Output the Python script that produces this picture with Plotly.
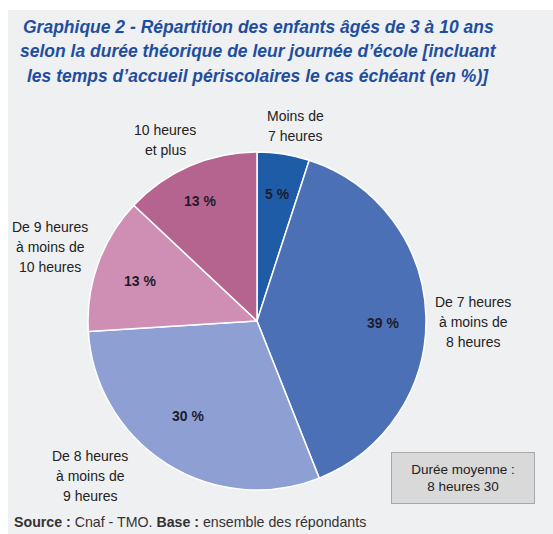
import plotly.graph_objects as go

categories = ["Moins de 7 heures", "De 7 heures à moins de 8 heures",
              "De 8 heures à moins de 9 heures", "De 9 heures à moins de 10 heures",
              "10 heures et plus"]
values = [5, 39, 30, 13, 13]
colors = ["#1f5ca8", "#4c70b6", "#8d9fd3", "#cf8fb5", "#b5648f"]
label_lines = [["Moins de", "7 heures"],
               ["De 7 heures", "à moins de", "8 heures"],
               ["De 8 heures", "à moins de", "9 heures"],
               ["De 9 heures", "à moins de", "10 heures"],
               ["10 heures", "et plus"]]

W, H = 553, 534
FONT = "Liberation Sans, Arial, sans-serif"

def px(x):
    return x / W

def py(y):
    return 1 - y / H

fig = go.Figure()
fig.add_trace(go.Pie(
    labels=categories, values=values, sort=False, direction="clockwise", rotation=0,
    marker=dict(colors=colors, line=dict(color="white", width=1.5)),
    textinfo="none",
    domain=dict(x=[px(88), px(426)], y=[py(490), py(152)]),
    hoverinfo="label+value", showlegend=False,
))

# background panel
fig.add_shape(type="rect", xref="paper", yref="paper", x0=px(8), x1=1, y0=0, y1=py(10),
              fillcolor="#eff0f2", line=dict(width=0), layer="below")

annotations = []
# title
title_lines = ["Graphique 2 - Répartition des enfants âgés de 3 à 10 ans",
               "selon la durée théorique de leur journée d’école [incluant",
               "les temps d’accueil périscolaires le cas échéant (en %)]"]
for i, t in enumerate(title_lines):
    annotations.append(dict(text="<b><i>" + t + "</i></b>", x=px(258), y=py(27 + 24.5 * i),
                            xref="paper", yref="paper", showarrow=False,
                            xanchor="center", yanchor="middle",
                            font=dict(family=FONT, size=17.5, color="#1f4e9e")))

# percentage labels inside slices
pct_pos = [(277, 194), (383, 323), (188, 416), (140, 281), (200, 201)]
for v, (cx, cy) in zip(values, pct_pos):
    annotations.append(dict(text="<b>%d %%</b>" % v, x=px(cx), y=py(cy),
                            xref="paper", yref="paper", showarrow=False,
                            xanchor="center", yanchor="middle",
                            font=dict(family=FONT, size=14, color="#1c1c2c")))

# category labels (center x, center y of block)
label_pos = [(295, 126), (473, 322), (90, 476), (50, 247), (165, 140)]
for lines, (cx, cy) in zip(label_lines, label_pos):
    n = len(lines)
    for j, t in enumerate(lines):
        yy = cy + (j - (n - 1) / 2) * 20
        annotations.append(dict(text=t, x=px(cx), y=py(yy), xref="paper", yref="paper",
                                showarrow=False, xanchor="center", yanchor="middle",
                                font=dict(family=FONT, size=14, color="#222222")))

# average box
annotations.append(dict(text="Durée moyenne :<br>8 heures 30", x=px(463), y=py(478),
                        xref="paper", yref="paper", showarrow=False,
                        xanchor="center", yanchor="middle",
                        width=140, height=48, bgcolor="#d9d9d9",
                        bordercolor="#a8a8a8", borderwidth=1,
                        font=dict(family=FONT, size=13.5, color="#222222")))

# source
annotations.append(dict(text="<b>Source :</b> Cnaf - TMO. <b>Base :</b> ensemble des répondants",
                        x=px(12), y=py(522), xref="paper", yref="paper", showarrow=False,
                        xanchor="left", yanchor="middle",
                        font=dict(family=FONT, size=14.2, color="#333333")))

fig.update_layout(
    width=W, height=H, margin=dict(l=0, r=0, t=0, b=0),
    paper_bgcolor="white", plot_bgcolor="white",
    annotations=annotations, showlegend=False,
)

fig.write_html("out.html", config={"displayModeBar": False},
               post_script="document.body.style.margin='0';")
